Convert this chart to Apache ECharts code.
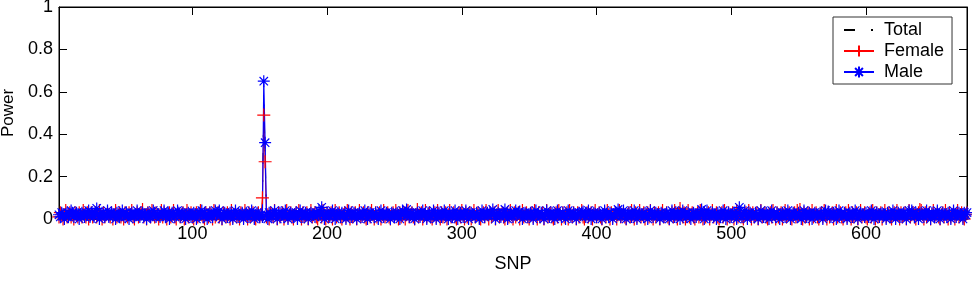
<!DOCTYPE html>
<html><head><meta charset="utf-8">
<script src="https://cdn.jsdelivr.net/npm/echarts@6/dist/echarts.min.js"></script>
<style>html,body{margin:0;padding:0;background:#fff}#c{width:972px;height:284px}</style>
</head><body><div id="c"></div>
<script>
const seriesNames = ['Total', 'Female', 'Male'];
const xTicks = [100, 200, 300, 400, 500, 600];
const xRange = [1, 675];
const yRange = [0, 1];

const total = [
.02,.02,.03,.01,.02,.03,.02,.02,.03,.02,.02,.01,.03,.02,.02,.02,.02,.02,.03,.02,.02,.03,.01,.02,.03,
.02,.02,.03,.03,.02,.03,.02,.02,.03,.01,.02,.03,.02,.02,.03,.01,.02,.03,.02,.02,.02,.02,.03,.01,.02,
.03,.02,.02,.02,.03,.02,.01,.02,.03,.02,.02,.03,.03,.02,.02,.01,.03,.02,.01,.03,.03,.02,.02,.02,.01,
.02,.03,.02,.03,.02,.01,.02,.03,.02,.03,.03,.01,.02,.03,.02,.01,.02,.03,.01,.02,.03,.02,.02,.02,.02,
.02,.02,.03,.02,.02,.03,.02,.01,.02,.03,.02,.02,.03,.02,.01,.03,.02,.02,.03,.03,.02,.01,.03,.03,.02,
.02,.02,.02,.03,.01,.02,.03,.02,.02,.01,.03,.03,.01,.03,.02,.01,.03,.02,.02,.03,.01,.01,.03,.03,.01,
.02,.06,.57,.31,.02,.02,.02,.03,.02,.02,.04,.02,.01,.03,.02,.02,.03,.01,.02,.03,.01,.02,.03,.02,.01,
.02,.03,.01,.03,.03,.01,.02,.02,.03,.03,.01,.02,.04,.02,.02,.02,.02,.01,.03,.03,.03,.03,.02,.01,.03,
.02,.02,.03,.02,.02,.03,.02,.03,.03,.01,.02,.02,.03,.01,.03,.03,.01,.02,.02,.03,.03,.01,.02,.04,.02,
.02,.03,.02,.01,.02,.02,.02,.03,.02,.01,.03,.02,.02,.03,.02,.02,.03,.02,.03,.03,.02,.01,.03,.03,.01,
.03,.03,.01,.02,.02,.03,.03,.02,.03,.03,.01,.02,.03,.02,.01,.02,.04,.02,.02,.03,.02,.02,.03,.01,.03,
.03,.01,.01,.03,.03,.01,.03,.03,.01,.02,.02,.03,.03,.01,.02,.04,.02,.02,.03,.02,.01,.02,.03,.02,.03,
.02,.01,.03,.02,.02,.03,.02,.02,.03,.01,.03,.03,.01,.01,.03,.03,.01,.03,.03,.01,.03,.02,.03,.03,.01,
.02,.04,.02,.02,.03,.03,.02,.02,.03,.02,.04,.02,.01,.03,.02,.02,.03,.02,.02,.03,.02,.02,.03,.02,.01,
.03,.03,.01,.03,.03,.01,.03,.02,.02,.03,.01,.02,.04,.02,.02,.03,.02,.01,.02,.03,.02,.03,.02,.01,.03,
.02,.02,.03,.02,.03,.02,.02,.03,.02,.01,.03,.02,.02,.04,.02,.01,.02,.03,.01,.02,.03,.01,.02,.03,.01,
.02,.03,.02,.01,.02,.03,.02,.03,.02,.02,.03,.01,.02,.03,.02,.03,.03,.01,.02,.03,.02,.01,.02,.03,.02,
.03,.02,.02,.03,.01,.02,.04,.02,.02,.02,.02,.02,.02,.02,.04,.02,.01,.03,.02,.02,.03,.01,.03,.03,.01,
.02,.03,.02,.01,.02,.03,.02,.03,.02,.02,.03,.03,.02,.02,.03,.01,.02,.04,.02,.02,.03,.02,.01,.02,.03,
.02,.03,.03,.01,.02,.02,.02,.03,.01,.02,.04,.02,.02,.02,.02,.01,.02,.03,.02,.03,.02,.01,.03,.02,.02,
.03,.02,.02,.03,.02,.04,.03,.01,.01,.03,.03,.01,.03,.03,.01,.03,.01,.03,.03,.01,.02,.04,.02,.02,.03,
.02,.01,.02,.03,.02,.03,.02,.01,.03,.02,.02,.03,.02,.02,.03,.02,.03,.03,.01,.01,.03,.03,.02,.03,.03,
.03,.02,.01,.03,.02,.02,.03,.02,.02,.03,.02,.03,.03,.02,.01,.03,.03,.01,.03,.03,.01,.03,.02,.02,.03,
.02,.02,.03,.02,.02,.03,.02,.01,.03,.03,.01,.03,.03,.01,.02,.02,.03,.03,.01,.02,.04,.02,.02,.02,.02,
.01,.02,.03,.02,.03,.02,.01,.03,.02,.02,.03,.02,.02,.03,.01,.03,.03,.01,.02,.03,.03,.01,.03,.03,.01,
.02,.02,.03,.03,.01,.02,.04,.02,.03,.03,.01,.02,.03,.02,.03,.04,.02,.01,.03,.02,.02,.03,.01,.03,.03,
.01,.02,.03,.02,.01,.02,.03,.02,.03,.02,.01,.03,.02,.02,.03,.01,.02,.03,.02,.02,.03,.02,.01,.03,.02
];

const female = [
.01,.03,.02,.00,.02,.04,.01,.02,.03,.01,.02,.00,.03,.02,.01,.03,.02,.01,.04,.02,.01,.03,.00,.02,.03,
.01,.02,.03,.01,.02,.04,.02,.00,.03,.01,.02,.03,.02,.01,.03,.00,.02,.04,.01,.02,.03,.01,.02,.00,.03,
.02,.01,.03,.02,.04,.01,.00,.02,.03,.01,.02,.03,.045,.01,.02,.00,.03,.02,.01,.04,.02,.01,.03,.02,.00,
.02,.04,.01,.03,.02,.00,.02,.03,.01,.02,.04,.01,.00,.03,.02,.01,.02,.03,.00,.02,.04,.01,.02,.03,.01,
.00,.02,.03,.01,.02,.04,.02,.01,.00,.03,.02,.01,.03,.02,.00,.04,.01,.02,.03,.01,.02,.00,.03,.02,.01,
.03,.02,.00,.04,.01,.02,.03,.01,.02,.00,.03,.02,.01,.04,.02,.00,.03,.01,.02,.03,.01,.00,.02,.03,.01,
.02,.10,.49,.27,.01,.02,.00,.03,.02,.01,.04,.02,.00,.03,.01,.02,.03,.00,.02,.04,.01,.02,.03,.01,.00,
.02,.03,.01,.04,.02,.00,.03,.01,.02,.03,.00,.02,.04,.01,.02,.03,.01,.00,.02,.03,.01,.04,.02,.00,.03,
.01,.02,.03,.00,.02,.04,.01,.02,.03,.01,.00,.02,.03,.01,.04,.02,.00,.03,.01,.02,.03,.00,.02,.04,.01,
.02,.03,.01,.00,.03,.02,.01,.04,.02,.00,.03,.01,.02,.03,.00,.02,.04,.01,.02,.03,.01,.00,.02,.03,.01,
.04,.02,.00,.03,.01,.02,.03,.00,.02,.04,.01,.02,.03,.01,.00,.02,.045,.01,.02,.03,.00,.02,.04,.01,.02,
.03,.01,.00,.02,.03,.01,.04,.02,.00,.03,.01,.02,.03,.00,.02,.04,.01,.02,.03,.01,.00,.02,.03,.01,.04,
.02,.00,.03,.01,.02,.03,.00,.02,.04,.01,.02,.03,.01,.00,.02,.03,.01,.04,.02,.00,.03,.01,.02,.03,.00,
.02,.04,.01,.02,.03,.01,.00,.02,.03,.01,.04,.02,.00,.03,.01,.02,.03,.00,.02,.04,.01,.02,.03,.01,.00,
.02,.03,.01,.04,.02,.00,.03,.01,.02,.03,.00,.02,.04,.01,.02,.03,.01,.00,.02,.03,.01,.04,.02,.00,.03,
.01,.02,.03,.00,.04,.02,.01,.03,.02,.00,.03,.01,.02,.04,.01,.00,.02,.03,.01,.02,.03,.00,.02,.04,.01,
.02,.03,.01,.00,.02,.03,.01,.04,.02,.00,.03,.01,.02,.03,.00,.02,.04,.01,.02,.03,.01,.00,.02,.03,.01,
.04,.02,.00,.03,.01,.02,.04,.01,.02,.03,.00,.02,.03,.01,.04,.02,.00,.03,.01,.02,.03,.00,.02,.04,.01,
.02,.03,.01,.00,.02,.03,.01,.04,.02,.00,.03,.05,.02,.01,.03,.00,.02,.04,.01,.02,.03,.01,.00,.02,.03,
.01,.04,.02,.00,.03,.01,.02,.03,.00,.02,.04,.01,.02,.03,.01,.00,.02,.03,.01,.04,.02,.00,.03,.01,.02,
.03,.00,.02,.04,.01,.02,.03,.01,.00,.02,.03,.01,.04,.02,.00,.03,.01,.02,.03,.00,.02,.04,.01,.02,.03,
.01,.00,.02,.03,.01,.04,.02,.00,.03,.01,.02,.03,.00,.02,.04,.01,.02,.03,.01,.00,.02,.03,.01,.04,.02,
.045,.02,.00,.03,.01,.02,.03,.00,.02,.04,.01,.02,.03,.01,.00,.02,.03,.01,.04,.02,.00,.03,.01,.02,.03,
.00,.02,.04,.01,.02,.03,.01,.00,.02,.03,.01,.04,.02,.00,.03,.01,.02,.03,.00,.02,.04,.01,.02,.03,.01,
.00,.02,.03,.01,.04,.02,.00,.03,.01,.02,.03,.00,.02,.04,.01,.02,.03,.01,.00,.02,.03,.01,.04,.02,.00,
.03,.01,.02,.03,.00,.02,.04,.01,.02,.03,.01,.00,.02,.03,.045,.04,.02,.00,.03,.01,.02,.03,.00,.02,.04,
.01,.02,.03,.01,.00,.02,.03,.01,.04,.02,.00,.03,.01,.02,.03,.00,.02,.04,.01,.02,.03,.01,.00,.02,.03
];

const male = [
.02,.01,.03,.02,.00,.02,.03,.01,.02,.04,.03,.01,.02,.03,.02,.00,.02,.03,.02,.01,.03,.02,.04,.01,.03,
.02,.01,.03,.05,.02,.00,.02,.03,.02,.01,.02,.04,.01,.02,.03,.02,.02,.00,.03,.02,.01,.02,.04,.02,.01,
.03,.02,.00,.02,.03,.02,.01,.02,.04,.02,.01,.02,.03,.02,.02,.00,.03,.02,.01,.02,.04,.03,.01,.02,.02,
.01,.03,.02,.04,.01,.02,.03,.00,.02,.03,.02,.01,.02,.04,.03,.01,.02,.03,.02,.00,.02,.03,.02,.01,.02,
.03,.02,.00,.02,.03,.02,.04,.01,.03,.02,.00,.02,.03,.02,.01,.02,.04,.02,.03,.04,.02,.00,.02,.03,.02,
.01,.02,.03,.02,.00,.02,.04,.02,.01,.02,.02,.03,.00,.02,.03,.02,.01,.02,.04,.02,.00,.02,.03,.02,.01,
.02,.01,.65,.36,.02,.00,.03,.02,.01,.02,.04,.02,.00,.02,.03,.02,.02,.01,.04,.02,.00,.02,.03,.02,.01,
.02,.03,.00,.02,.04,.02,.01,.02,.03,.02,.00,.02,.03,.02,.02,.01,.03,.02,.04,.02,.055,.02,.00,.02,.03,
.02,.01,.02,.04,.02,.00,.02,.03,.02,.01,.03,.02,.02,.00,.02,.04,.02,.01,.02,.03,.02,.00,.02,.03,.02,
.01,.02,.04,.02,.00,.02,.03,.02,.02,.01,.03,.02,.00,.02,.04,.02,.01,.02,.03,.02,.02,.00,.03,.02,.01,
.02,.03,.02,.00,.02,.04,.02,.03,.045,.02,.01,.02,.03,.02,.00,.02,.03,.02,.01,.02,.04,.02,.02,.00,.03,
.02,.01,.02,.04,.02,.00,.02,.03,.02,.01,.02,.04,.02,.02,.00,.03,.02,.01,.02,.04,.02,.00,.02,.03,.02,
.01,.02,.04,.02,.00,.02,.03,.02,.02,.01,.03,.02,.00,.02,.04,.02,.01,.02,.03,.02,.03,.02,.045,.02,.00,
.02,.03,.02,.01,.02,.03,.045,.02,.00,.02,.03,.02,.01,.02,.04,.02,.03,.035,.02,.00,.02,.03,.02,.01,.02,
.03,.02,.00,.02,.04,.02,.02,.01,.03,.02,.00,.02,.04,.02,.01,.02,.03,.02,.00,.02,.04,.02,.02,.01,.03,
.02,.00,.02,.04,.02,.01,.02,.03,.02,.00,.02,.03,.02,.03,.035,.02,.01,.02,.04,.02,.00,.02,.03,.02,.01,
.02,.03,.02,.00,.02,.04,.02,.02,.01,.03,.02,.00,.02,.03,.03,.045,.02,.01,.02,.04,.02,.00,.02,.03,.02,
.01,.02,.04,.02,.00,.02,.03,.02,.02,.01,.03,.02,.00,.02,.04,.02,.01,.02,.03,.02,.02,.00,.03,.02,.01,
.02,.03,.02,.00,.02,.04,.02,.01,.02,.03,.02,.00,.02,.04,.02,.02,.01,.03,.02,.00,.02,.03,.02,.01,.02,
.03,.02,.045,.02,.00,.02,.04,.02,.01,.02,.03,.02,.02,.00,.03,.02,.01,.02,.04,.02,.00,.02,.03,.02,.01,
.02,.03,.02,.00,.03,.055,.02,.01,.02,.04,.02,.00,.02,.03,.02,.02,.01,.03,.02,.00,.02,.04,.02,.01,.02,
.03,.02,.00,.02,.04,.02,.02,.01,.03,.02,.00,.02,.03,.02,.01,.02,.04,.02,.00,.02,.03,.02,.02,.01,.03,
.02,.00,.02,.04,.02,.01,.02,.03,.02,.00,.02,.03,.02,.02,.01,.03,.02,.00,.02,.04,.02,.035,.02,.01,.02,
.03,.02,.00,.02,.04,.02,.02,.01,.03,.02,.00,.02,.03,.02,.01,.02,.04,.02,.00,.02,.03,.02,.02,.01,.03,
.02,.01,.02,.04,.02,.00,.02,.03,.02,.01,.02,.03,.02,.02,.00,.03,.02,.01,.02,.04,.02,.00,.02,.03,.02,
.01,.02,.03,.02,.00,.02,.04,.02,.04,.02,.01,.03,.02,.00,.02,.03,.02,.01,.02,.04,.02,.02,.00,.03,.02,
.01,.02,.04,.02,.00,.02,.03,.02,.02,.01,.03,.02,.00,.02,.04,.02,.01,.02,.03,.02,.02,.00,.03,.02,.03
];

const FONT = '"Liberation Sans", Arial, Helvetica, sans-serif';
const PLUS = 'path://M0,6L12,6M6,0L6,12';
const STAR = 'path://M0,6L12,6M6,0L6,12M1.8,1.8L10.2,10.2M1.8,10.2L10.2,1.8';
const pairs = arr => arr.map((v, i) => [i + 1, v]);

const chart = echarts.init(document.getElementById('c'), null, {renderer: 'canvas'});
const tickStyle = {color: '#000', width: 1};
const option = {
  animation: false,
  backgroundColor: '#fff',
  grid: {left: 59, right: 5, top: 7, bottom: 65, containLabel: false, outerBoundsMode: 'none',
    show: true, borderColor: '#000', borderWidth: 1, backgroundColor: 'transparent'},
  xAxis: [{
    type: 'value', min: xRange[0], max: xRange[1], position: 'bottom',
    axisLine: {show: true, onZero: false, lineStyle: tickStyle},
    axisTick: {show: true, inside: true, length: 8, customValues: xTicks, lineStyle: tickStyle},
    axisLabel: {customValues: xTicks, color: '#000', fontFamily: FONT, fontSize: 18, margin: 6},
    splitLine: {show: false},
    name: 'SNP', nameLocation: 'middle', nameGap: 36,
    nameTextStyle: {color: '#000', fontFamily: FONT, fontSize: 18}
  }, {
    type: 'value', min: xRange[0], max: xRange[1], position: 'top',
    axisLine: {show: true, onZero: false, lineStyle: tickStyle},
    axisTick: {show: true, inside: true, length: 8, customValues: xTicks, lineStyle: tickStyle},
    axisLabel: {show: false}, splitLine: {show: false}
  }],
  yAxis: [{
    type: 'value', min: yRange[0], max: yRange[1], interval: 0.2, position: 'left',
    axisLine: {show: true, onZero: false, lineStyle: tickStyle},
    axisTick: {show: true, inside: true, length: 8, lineStyle: tickStyle},
    axisLabel: {color: '#000', fontFamily: FONT, fontSize: 18, margin: 6,
      formatter: v => String(Math.round(v * 10) / 10)},
    splitLine: {show: false},
    name: 'Power', nameLocation: 'middle', nameGap: 41,
    nameTextStyle: {color: '#000', fontFamily: FONT, fontSize: 17}
  }, {
    type: 'value', min: yRange[0], max: yRange[1], interval: 0.2, position: 'right',
    axisLine: {show: true, onZero: false, lineStyle: tickStyle},
    axisTick: {show: true, inside: true, length: 8, lineStyle: tickStyle},
    axisLabel: {show: false}, splitLine: {show: false}
  }],
  legend: {
    orient: 'vertical', left: 833, top: 17, padding: [4, 8, 3, 10], itemGap: 3,
    itemWidth: 30, itemHeight: 14, backgroundColor: '#fff', borderColor: '#333', borderWidth: 1,
    textStyle: {fontFamily: FONT, fontSize: 18, color: '#000', padding: [0, 0, 0, 5]},
    data: [{name: seriesNames[0], itemStyle: {opacity: 0}}, seriesNames[1], seriesNames[2]]
  },
  series: [{
    name: seriesNames[0], type: 'line', data: pairs(total), symbol: 'none', silent: true,
    lineStyle: {color: '#000', width: 1, type: [11, 16, 2, 16]}, itemStyle: {color: '#000'}
  }, {
    name: seriesNames[1], type: 'line', data: pairs(female), symbol: PLUS, symbolSize: 13, silent: true,
    lineStyle: {color: '#ff0000', width: 1},
    itemStyle: {color: '#ff0000', borderColor: '#ff0000', borderWidth: 1.2}
  }, {
    name: seriesNames[2], type: 'line', data: pairs(male), symbol: STAR, symbolSize: 12, silent: true,
    lineStyle: {color: '#0000ff', width: 1.2},
    itemStyle: {color: '#0000ff', borderColor: '#0000ff', borderWidth: 1.2}
  }]
};
chart.setOption(option);
</script>
</body></html>
